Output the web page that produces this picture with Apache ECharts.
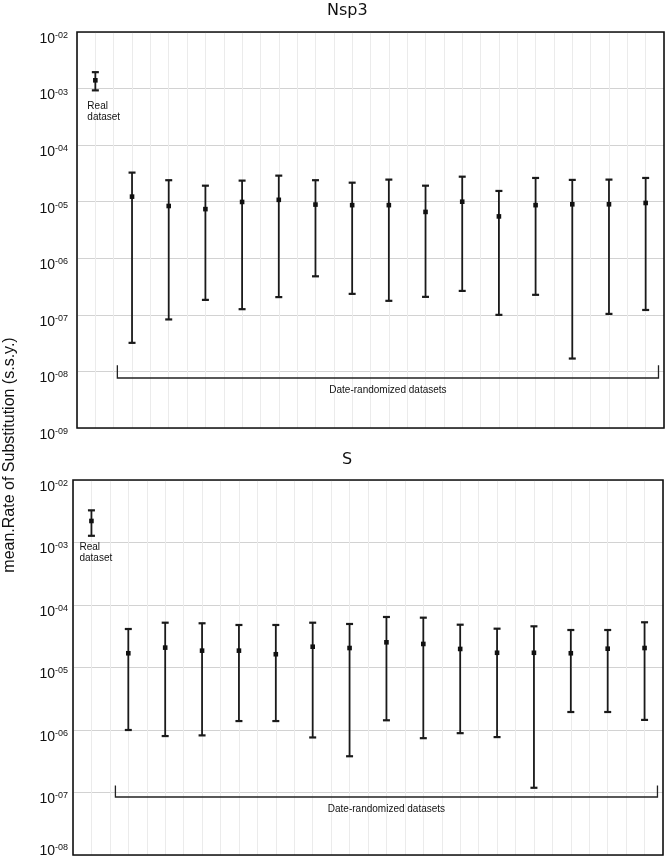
<!DOCTYPE html>
<html>
<head>
<meta charset="utf-8">
<script src="https://cdn.jsdelivr.net/npm/echarts@6/dist/echarts.min.js"></script>
<style>
  html, body { margin: 0; padding: 0; background: #fff; }
  #chart { width: 667px; height: 858px; }
</style>
</head>
<body>
<div id="chart"></div>
<script>
// datasets: first one is the real dataset, the rest are date-randomized
const datasetNames = ['Real', 'R1', 'R2', 'R3', 'R4', 'R5', 'R6', 'R7', 'R8', 'R9', 'R10', 'R11', 'R12', 'R13', 'R14', 'R15'];

// Nsp3 mean rate + 95% HPD bounds
const nsp3Mean  = [1.40e-3, 1.23e-5, 8.4e-6, 7.4e-6, 9.9e-6, 1.08e-5, 8.9e-6, 8.7e-6, 8.7e-6, 6.6e-6, 1.0e-5, 5.5e-6, 8.7e-6, 9.0e-6, 9.0e-6, 9.5e-6];
const nsp3Lower = [9.3e-4, 3.2e-8, 8.3e-8, 1.84e-7, 1.26e-7, 2.06e-7, 4.8e-7, 2.35e-7, 1.77e-7, 2.08e-7, 2.65e-7, 1.0e-7, 2.26e-7, 1.69e-8, 1.04e-7, 1.22e-7];
const nsp3Upper = [1.95e-3, 3.27e-5, 2.40e-5, 1.92e-5, 2.36e-5, 2.89e-5, 2.40e-5, 2.17e-5, 2.46e-5, 1.92e-5, 2.77e-5, 1.55e-5, 2.63e-5, 2.43e-5, 2.46e-5, 2.63e-5];

// S mean rate + 95% HPD bounds
const sMean  = [2.21e-3, 1.69e-5, 2.08e-5, 1.86e-5, 1.86e-5, 1.63e-5, 2.15e-5, 2.05e-5, 2.53e-5, 2.38e-5, 1.98e-5, 1.72e-5, 1.72e-5, 1.69e-5, 2.0e-5, 2.05e-5];
const sLower = [1.28e-3, 1.0e-6, 8.0e-7, 8.2e-7, 1.39e-6, 1.39e-6, 7.6e-7, 3.8e-7, 1.43e-6, 7.4e-7, 8.9e-7, 7.7e-7, 1.19e-7, 1.94e-6, 1.94e-6, 1.45e-6];
const sUpper = [3.27e-3, 4.13e-5, 5.21e-5, 5.10e-5, 4.79e-5, 4.79e-5, 5.21e-5, 4.97e-5, 6.43e-5, 6.27e-5, 4.84e-5, 4.18e-5, 4.56e-5, 3.98e-5, 3.98e-5, 5.29e-5];

const panelTitles = ['Nsp3', 'S'];
const yRanges = [[1e-9, 1e-2], [1e-8, 1e-2]];
const realLabel = 'Real\ndataset';
const bracketLabel = 'Date-randomized datasets';
const yAxisTitle = 'mean.Rate of Substitution (s.s.y.)';

const TXT = '#111';
const SANS = '"Liberation Sans", Arial, sans-serif';

const panels = [
  {
    grid: { left: 77, top: 32, width: 587, height: 396 },
    mean: nsp3Mean, lower: nsp3Lower, upper: nsp3Upper,
    labelMargin: 9,
    liftMinLabel: false,
    realOffset: [-8, 10],
    bracket: { from: 2.2, to: 31.7, line: 7.66e-9, tick: 1.28e-8 }
  },
  {
    grid: { left: 73, top: 480, width: 590, height: 375 },
    mean: sMean, lower: sLower, upper: sUpper,
    labelMargin: 5,
    liftMinLabel: true,   // bottom label sits above the frame edge
    realOffset: [-12, 6],
    bracket: { from: 2.3, to: 31.7, line: 8.47e-8, tick: 1.30e-7 }
  }
];

// slot on the 0..32 x axis for dataset i
function slot(i) { return 2 * i + 1; }

function supFormatter(k) {
  return function (v) {
    const e = Math.round(Math.log10(v));
    const s = (e < 0 ? '-' : '') + (Math.abs(e) < 10 ? '0' : '') + Math.abs(e);
    let txt = '{b|10}{s|' + s + '}';
    if (panels[k].liftMinLabel && Math.abs(v - yRanges[k][0]) < yRanges[k][0] * 1e-6) {
      txt += '\n{gap| }';
    }
    return txt;
  };
}

function errorBarItem(panel) {
  return function (params, api) {
    const x = api.value(0);
    const pLo = api.coord([x, api.value(1)]);
    const pMid = api.coord([x, api.value(2)]);
    const pHi = api.coord([x, api.value(3)]);
    const cap = 3.5;
    const st = { stroke: '#1a1a1a', lineWidth: 1.8 };
    const kids = [
      { type: 'line', shape: { x1: pLo[0], y1: pLo[1], x2: pHi[0], y2: pHi[1] }, style: st },
      { type: 'line', shape: { x1: pLo[0] - cap, y1: pLo[1], x2: pLo[0] + cap, y2: pLo[1] }, style: { stroke: '#1a1a1a', lineWidth: 2.2 } },
      { type: 'line', shape: { x1: pHi[0] - cap, y1: pHi[1], x2: pHi[0] + cap, y2: pHi[1] }, style: { stroke: '#1a1a1a', lineWidth: 2.2 } },
      { type: 'rect', shape: { x: pMid[0] - 2.3, y: pMid[1] - 2.3, width: 4.6, height: 4.6 }, style: { fill: '#111' } }
    ];
    if (params.dataIndex === 0) {
      kids.push({
        type: 'text',
        style: {
          text: realLabel, x: pLo[0] + panel.realOffset[0], y: pLo[1] + panel.realOffset[1],
          fill: TXT, font: '10px ' + SANS, lineHeight: 11, align: 'left', verticalAlign: 'top'
        }
      });
    }
    return { type: 'group', children: kids };
  };
}

function bracketItem(panel) {
  const b = panel.bracket;
  return function (params, api) {
    const l = api.coord([b.from, b.line]);
    const r = api.coord([b.to, b.line]);
    const t = api.coord([b.from, b.tick]);
    const st = { stroke: '#222', lineWidth: 1.3 };
    return {
      type: 'group',
      children: [
        { type: 'polyline', shape: { points: [[l[0], t[1]], l, r, [r[0], t[1]]] }, style: Object.assign({ fill: null }, st) },
        { type: 'text', style: { text: bracketLabel, x: (l[0] + r[0]) / 2, y: l[1] + 12, fill: TXT, font: '10px ' + SANS, align: 'center', verticalAlign: 'middle' } }
      ]
    };
  };
}

const option = {
  backgroundColor: '#fff',
  animation: false,
  grid: panels.map(p => Object.assign({
    show: true, z: 10, borderColor: '#111', borderWidth: 1.6, backgroundColor: 'transparent',
    containLabel: false, outerBoundsMode: 'none'
  }, p.grid)),
  xAxis: panels.map((p, k) => ({
    type: 'value', gridIndex: k, min: 0, max: 32, interval: 1,
    axisLine: { show: false }, axisTick: { show: false }, axisLabel: { show: false },
    splitLine: { show: true, lineStyle: { color: '#ebebeb', width: 1 } }
  })),
  yAxis: panels.map((p, k) => ({
    type: 'log', logBase: 10, gridIndex: k, min: yRanges[k][0], max: yRanges[k][1],
    axisLine: { show: false }, axisTick: { show: false },
    axisLabel: {
      margin: p.labelMargin, formatter: supFormatter(k), padding: [13, 0, 0, 0],
      rich: {
        b: { fontFamily: SANS, fontSize: 14, color: TXT, lineHeight: 15, verticalAlign: 'bottom' },
        s: { fontFamily: SANS, fontSize: 9, color: TXT, lineHeight: 15, verticalAlign: 'top', padding: [0, 0, 8, 0] },
        gap: { fontSize: 1, lineHeight: 22 }
      }
    },
    splitLine: { show: true, lineStyle: { color: '#d2d2d2', width: 1 } }
  })),
  graphic: [
    { type: 'text', left: 327, top: 3, style: { text: panelTitles[0], fill: '#111', font: '16px "DejaVu Sans", sans-serif' } },
    { type: 'text', left: 342, top: 452, style: { text: panelTitles[1], fill: '#111', font: '16px "DejaVu Sans", sans-serif' } },
    { type: 'text', x: 10, y: 455, rotation: Math.PI / 2, style: { text: yAxisTitle, fill: '#111', font: '16px ' + SANS, align: 'center', verticalAlign: 'middle' } }
  ],
  series: []
};

panels.forEach((p, k) => {
  option.series.push({
    type: 'custom', xAxisIndex: k, yAxisIndex: k, z: 5,
    renderItem: errorBarItem(p),
    encode: { x: 0, y: [1, 2, 3] },
    data: datasetNames.map((n, i) => [slot(i), p.lower[i], p.mean[i], p.upper[i]])
  });
  option.series.push({
    type: 'custom', xAxisIndex: k, yAxisIndex: k, z: 4,
    renderItem: bracketItem(p),
    data: [[0]]
  });
});

const chart = echarts.init(document.getElementById('chart'), null, { renderer: 'canvas' });
chart.setOption(option);
</script>
</body>
</html>
